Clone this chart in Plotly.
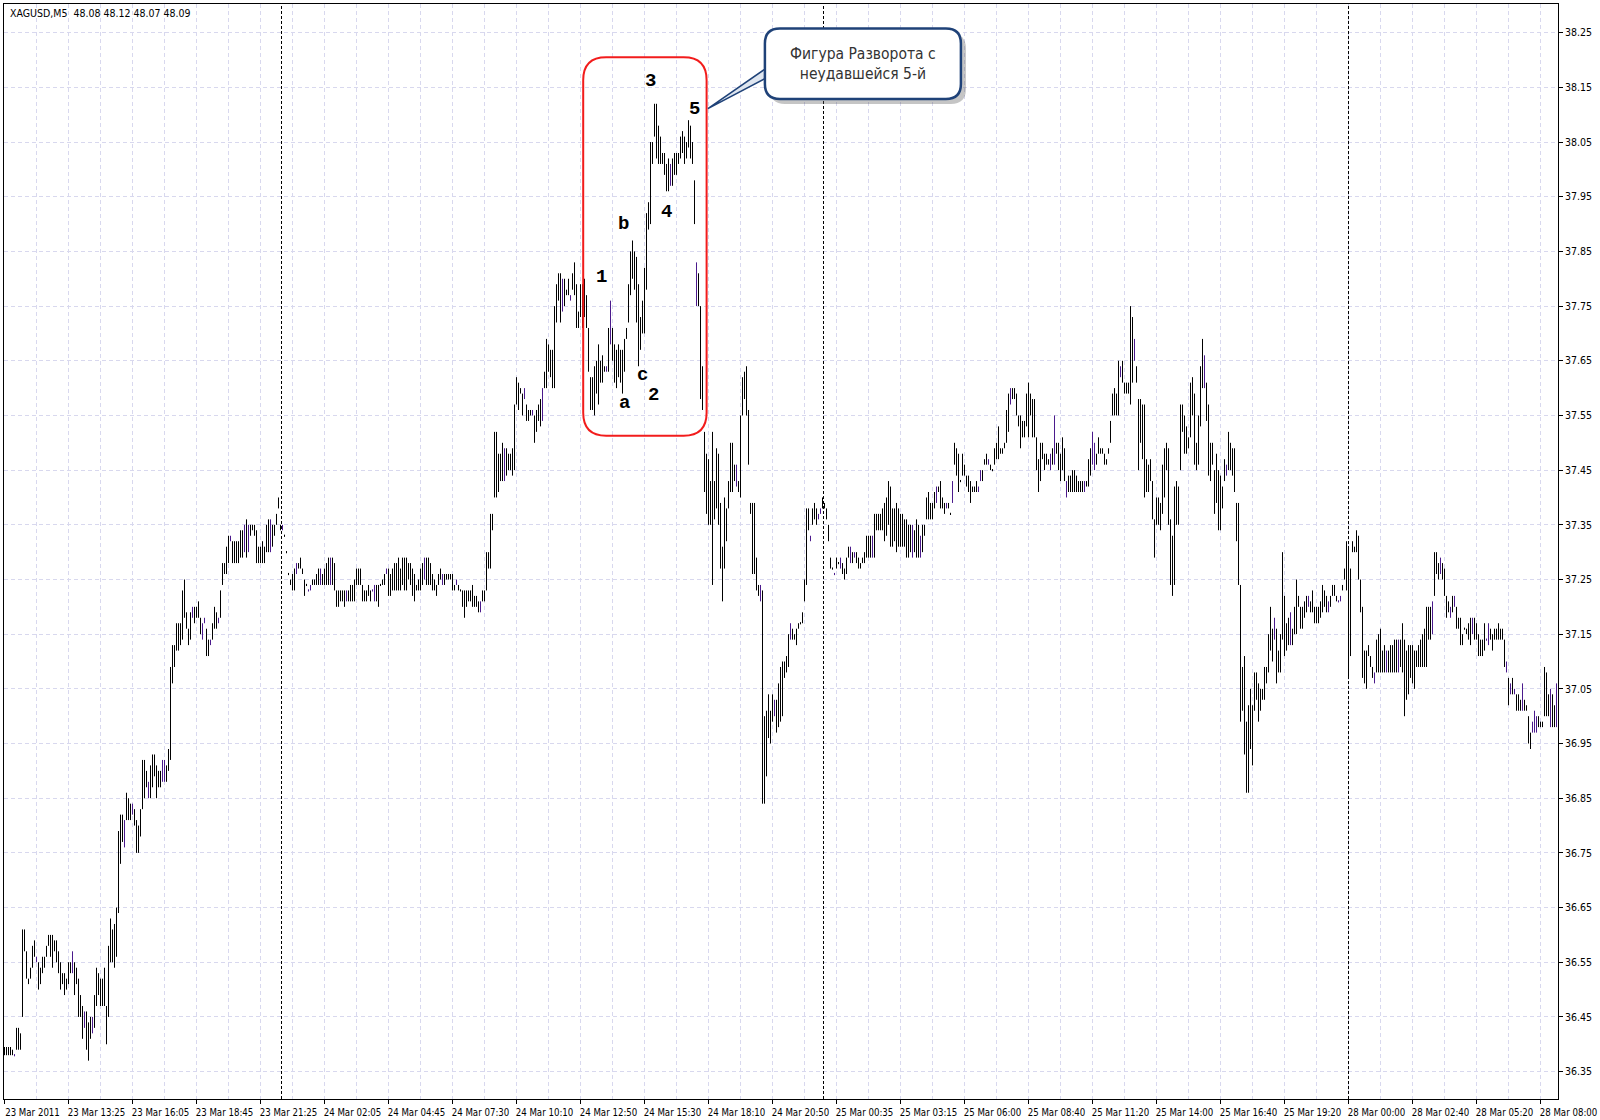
import plotly.graph_objects as go

# ---------------- data (XAGUSD M5 bars) ----------------
highs = [
36.395,36.395,36.395,36.395,36.39,36.382,36.43,36.43,36.42,36.61,
36.61,36.57,36.52,36.54,36.58,36.59,36.56,36.55,36.54,36.56,
36.56,36.58,36.60,36.60,36.60,36.59,36.59,36.57,36.55,36.53,
36.53,36.52,36.55,36.55,36.57,36.55,36.54,36.52,36.49,36.47,
36.46,36.46,36.44,36.45,36.45,36.49,36.54,36.53,36.52,36.52,
36.54,36.47,36.58,36.63,36.61,36.62,36.65,36.79,36.82,36.82,
36.81,36.86,36.85,36.84,36.84,36.83,36.81,36.80,36.83,36.92,
36.92,36.90,36.88,36.91,36.93,36.93,36.91,36.90,36.90,36.92,
36.92,36.91,36.94,37.09,37.13,37.13,37.17,37.17,37.17,37.23,
37.25,37.19,37.16,37.19,37.20,37.20,37.20,37.21,37.18,37.17,
37.18,37.16,37.14,37.14,37.17,37.20,37.19,37.18,37.23,37.28,
37.28,37.31,37.33,37.33,37.32,37.32,37.32,37.32,37.34,37.34,
37.35,37.36,37.35,37.35,37.35,37.35,37.34,37.31,37.31,37.32,
37.31,37.35,37.36,37.36,37.35,37.35,37.37,37.40,37.35,37.35,
37.332,37.302,37.262,37.25,37.26,37.27,37.28,37.28,37.29,37.27,
37.25,37.242,37.232,37.24,37.25,37.25,37.26,37.27,37.27,37.26,
37.27,37.28,37.29,37.29,37.29,37.28,37.23,37.23,37.23,37.23,
37.23,37.23,37.23,37.24,37.24,37.25,37.27,37.27,37.27,37.24,
37.23,37.23,37.24,37.23,37.232,37.24,37.24,37.24,37.242,37.25,
37.26,37.27,37.27,37.26,37.27,37.28,37.28,37.29,37.27,37.29,
37.29,37.29,37.28,37.28,37.27,37.26,37.24,37.25,37.27,37.28,
37.29,37.29,37.29,37.28,37.26,37.25,37.24,37.26,37.27,37.26,
37.26,37.26,37.26,37.26,37.26,37.24,37.25,37.24,37.232,37.23,
37.23,37.23,37.23,37.23,37.24,37.22,37.22,37.21,37.21,37.23,
37.23,37.30,37.30,37.37,37.37,37.52,37.52,37.48,37.48,37.50,
37.49,37.49,37.48,37.48,37.49,37.57,37.62,37.61,37.60,37.59,
37.60,37.57,37.56,37.56,37.56,37.55,37.56,37.57,37.58,37.60,
37.63,37.69,37.68,37.67,37.67,37.75,37.79,37.81,37.81,37.80,
37.80,37.78,37.80,37.77,37.81,37.83,37.79,37.74,37.79,37.79,
37.80,37.77,37.71,37.62,37.62,37.64,37.65,37.68,37.65,37.66,
37.64,37.64,37.71,37.76,37.71,37.68,37.67,37.68,37.67,37.67,
37.69,37.71,37.79,37.85,37.87,37.85,37.84,37.79,37.73,37.76,
37.82,37.92,37.94,38.05,38.05,38.12,38.12,38.08,38.06,38.03,
38.03,38.01,38.02,38.01,38.02,38.03,38.03,38.03,38.06,38.07,
38.06,38.05,38.09,38.08,38.05,37.98,37.83,37.81,37.75,37.64,
37.52,37.48,37.47,37.43,37.52,37.43,37.49,37.48,37.39,37.31,
37.40,37.38,37.43,37.50,37.50,37.46,37.46,37.43,37.55,37.62,
37.63,37.64,37.56,37.39,37.39,37.39,37.29,37.24,37.24,37.23,
37.00,37.01,37.04,37.01,37.04,37.03,37.03,37.06,37.09,37.10,
37.10,37.11,37.15,37.17,37.16,37.15,37.16,37.17,37.172,37.19,
37.25,37.38,37.38,37.33,37.38,37.39,37.38,37.37,37.38,37.40,
37.39,37.38,37.35,37.29,37.272,37.262,37.29,37.282,37.29,37.28,
37.27,37.29,37.31,37.31,37.30,37.30,37.30,37.29,37.28,37.29,
37.30,37.33,37.33,37.33,37.33,37.37,37.37,37.37,37.37,37.38,
37.39,37.40,37.43,37.42,37.38,37.38,37.39,37.38,37.37,37.37,
37.36,37.36,37.35,37.35,37.35,37.34,37.36,37.35,37.33,37.35,
37.35,37.40,37.41,37.39,37.39,37.41,37.42,37.42,37.43,37.40,
37.39,37.39,37.39,37.372,37.43,37.50,37.49,37.48,37.432,37.48,
37.46,37.44,37.44,37.43,37.42,37.42,37.43,37.42,37.45,37.45,
37.47,37.48,37.47,37.46,37.452,37.49,37.50,37.53,37.49,37.49,
37.50,37.56,37.59,37.60,37.60,37.60,37.59,37.55,37.55,37.54,
37.54,37.59,37.61,37.59,37.58,37.58,37.51,37.47,37.50,37.50,
37.48,37.48,37.47,37.48,37.49,37.55,37.50,37.50,37.48,37.51,
37.49,37.43,37.44,37.44,37.45,37.45,37.44,37.43,37.43,37.43,
37.43,37.43,37.47,37.49,37.52,37.50,37.48,37.51,37.49,37.49,
37.48,37.47,37.49,37.54,37.59,37.60,37.59,37.65,37.64,37.65,
37.61,37.61,37.61,37.75,37.73,37.69,37.64,37.58,37.58,37.57,
37.57,37.47,37.46,37.47,37.43,37.36,37.40,37.40,37.39,37.46,
37.49,37.50,37.49,37.36,37.33,37.42,37.43,37.42,37.57,37.57,
37.55,37.53,37.51,37.61,37.62,37.59,37.50,37.55,37.64,37.69,
37.66,37.61,37.57,37.50,37.50,37.45,37.48,37.45,37.44,37.42,
37.47,37.46,37.52,37.50,37.49,37.49,37.39,37.39,37.24,37.09,
37.11,36.99,37.02,37.05,37.02,37.08,37.08,37.06,37.05,37.05,
37.09,37.09,37.15,37.20,37.16,37.18,37.16,37.12,37.15,37.30,
37.22,37.17,37.18,37.19,37.16,37.20,37.25,37.22,37.20,37.20,
37.21,37.22,37.22,37.21,37.23,37.20,37.20,37.20,37.21,37.24,
37.23,37.22,37.21,37.22,37.24,37.24,37.22,37.212,37.22,37.24,
37.27,37.32,37.31,37.27,37.32,37.31,37.34,37.33,37.25,37.20,
37.12,37.12,37.13,37.11,37.09,37.08,37.14,37.15,37.16,37.12,
37.13,37.12,37.12,37.13,37.13,37.14,37.14,37.14,37.14,37.17,
37.14,37.12,37.13,37.13,37.13,37.12,37.12,37.13,37.14,37.15,
37.16,37.20,37.20,37.20,37.21,37.30,37.30,37.28,37.29,37.28,
37.27,37.22,37.21,37.20,37.22,37.22,37.20,37.18,37.18,37.15,
37.162,37.16,37.17,37.18,37.18,37.18,37.17,37.15,37.14,37.14,
37.17,37.142,37.17,37.16,37.15,37.16,37.16,37.17,37.16,37.16,
37.14,37.10,37.07,37.06,37.07,37.05,37.04,37.04,37.03,37.06,
37.03,37.02,37.00,36.97,36.99,37.01,37.00,37.00,36.99,36.99,
37.09,37.08,37.04,37.05,37.04,37.02,37.06,
]

lows = [
36.38,36.38,36.38,36.38,36.38,36.378,36.39,36.39,36.39,36.45,
36.57,36.52,36.51,36.52,36.54,36.56,36.55,36.50,36.51,36.53,
36.54,36.56,36.58,36.56,36.54,36.57,36.55,36.53,36.50,36.51,
36.49,36.50,36.51,36.53,36.53,36.49,36.51,36.45,36.45,36.41,
36.43,36.39,36.37,36.41,36.42,36.43,36.47,36.49,36.47,36.47,
36.47,36.40,36.45,36.55,36.55,36.54,36.56,36.64,36.73,36.77,
36.76,36.81,36.81,36.81,36.82,36.80,36.75,36.75,36.78,36.83,
36.85,36.87,36.85,36.85,36.87,36.89,36.85,36.87,36.87,36.88,
36.88,36.88,36.90,36.92,37.06,37.09,37.12,37.12,37.13,37.14,
37.18,37.16,37.13,37.14,37.18,37.17,37.18,37.18,37.15,37.14,
37.17,37.11,37.11,37.13,37.14,37.16,37.16,37.17,37.18,37.24,
37.26,37.26,37.28,37.32,37.28,37.28,37.28,37.28,37.29,37.29,
37.30,37.29,37.30,37.33,37.34,37.33,37.28,37.28,37.28,37.28,
37.28,37.30,37.30,37.30,37.31,37.33,37.35,37.38,37.34,37.34,
37.328,37.298,37.258,37.24,37.23,37.23,37.26,37.27,37.27,37.26,
37.22,37.238,37.228,37.23,37.24,37.24,37.24,37.24,37.24,37.24,
37.24,37.24,37.24,37.24,37.24,37.23,37.20,37.20,37.21,37.21,
37.20,37.21,37.21,37.21,37.21,37.21,37.24,37.24,37.24,37.21,
37.21,37.21,37.22,37.21,37.228,37.21,37.21,37.20,37.238,37.24,
37.24,37.26,37.22,37.22,37.23,37.23,37.23,37.23,37.23,37.24,
37.23,37.23,37.25,37.24,37.22,37.21,37.23,37.23,37.23,37.24,
37.25,37.24,37.24,37.24,37.23,37.23,37.22,37.24,37.25,37.24,
37.24,37.25,37.25,37.25,37.23,37.23,37.24,37.23,37.228,37.20,
37.18,37.20,37.21,37.21,37.20,37.20,37.20,37.19,37.19,37.21,
37.21,37.23,37.27,37.27,37.34,37.40,37.40,37.41,37.43,37.43,
37.43,37.44,37.45,37.45,37.44,37.45,37.57,37.56,37.59,37.55,
37.58,37.54,37.54,37.55,37.55,37.50,37.52,37.54,37.53,37.54,
37.60,37.60,37.63,37.62,37.60,37.60,37.72,37.76,37.72,37.74,
37.75,37.77,37.77,37.76,37.78,37.77,37.71,37.71,37.73,37.71,
37.73,37.71,37.63,37.56,37.56,37.55,37.59,37.57,37.61,37.61,
37.63,37.63,37.63,37.68,37.65,37.61,37.60,37.62,37.61,37.59,
37.63,37.69,37.72,37.77,37.80,37.78,37.72,37.64,37.67,37.70,
37.70,37.78,37.89,37.90,38.01,38.06,38.02,38.01,38.01,38.01,
37.99,37.96,37.96,37.97,37.97,37.99,37.99,38.01,38.02,38.03,
38.01,38.02,38.04,38.02,38.01,37.90,37.75,37.75,37.58,37.56,
37.41,37.37,37.35,37.35,37.24,37.36,37.38,37.35,37.27,37.21,
37.27,37.32,37.38,37.41,37.41,37.43,37.42,37.41,37.40,37.55,
37.58,37.55,37.46,37.37,37.26,37.26,37.23,37.22,37.21,36.84,
36.84,36.89,36.96,36.95,36.99,37.00,36.97,36.98,36.99,37.00,
37.07,37.08,37.09,37.14,37.14,37.14,37.13,37.16,37.168,37.17,
37.21,37.24,37.34,37.32,37.35,37.36,37.35,37.36,37.37,37.38,
37.38,37.36,37.32,37.27,37.268,37.258,37.27,37.278,37.27,37.26,
37.25,37.26,37.29,37.28,37.28,37.29,37.28,37.27,37.27,37.28,
37.28,37.29,37.29,37.29,37.29,37.29,37.34,37.34,37.34,37.34,
37.32,37.33,37.35,37.31,37.31,37.32,37.30,37.31,37.31,37.31,
37.31,37.29,37.29,37.30,37.29,37.30,37.29,37.29,37.29,37.30,
37.33,37.36,37.36,37.36,37.36,37.38,37.39,37.41,37.38,37.38,
37.37,37.38,37.38,37.368,37.39,37.46,37.44,37.41,37.428,37.44,
37.44,37.42,37.41,37.39,37.41,37.41,37.41,37.41,37.43,37.43,
37.46,37.46,37.46,37.45,37.448,37.46,37.47,37.47,37.48,37.48,
37.49,37.50,37.52,37.57,37.58,37.58,37.55,37.53,37.49,37.51,
37.51,37.53,37.51,37.55,37.51,37.51,37.45,37.41,37.43,37.47,
37.45,37.46,37.46,37.45,37.46,37.46,37.48,37.45,37.43,37.45,
37.43,37.40,37.41,37.41,37.41,37.41,37.41,37.41,37.41,37.41,
37.41,37.42,37.42,37.44,37.46,37.45,37.46,37.48,37.48,37.48,
37.46,37.46,37.48,37.50,37.55,37.55,37.55,37.55,37.62,37.61,
37.59,37.59,37.59,37.57,37.61,37.65,37.61,37.45,37.50,37.47,
37.40,37.41,37.41,37.43,37.36,37.29,37.35,37.35,37.34,37.37,
37.40,37.45,37.35,37.24,37.22,37.24,37.35,37.35,37.45,37.52,
37.48,37.48,37.49,37.51,37.55,37.46,37.45,37.46,37.53,37.60,
37.60,37.54,37.44,37.43,37.46,37.37,37.39,37.34,37.34,37.38,
37.43,37.44,37.45,37.45,37.44,37.41,37.32,37.24,36.99,37.01,
36.93,36.86,36.86,36.94,36.91,37.01,37.03,36.99,37.01,37.03,
37.03,37.06,37.08,37.12,37.10,37.14,37.06,37.08,37.08,37.14,
37.11,37.12,37.13,37.13,37.13,37.15,37.15,37.20,37.16,37.16,
37.18,37.19,37.20,37.19,37.19,37.17,37.17,37.17,37.18,37.19,
37.20,37.19,37.19,37.20,37.22,37.22,37.21,37.208,37.21,37.23,
37.25,37.23,37.07,37.11,37.30,37.30,37.30,37.25,37.19,37.07,
37.06,37.05,37.11,37.09,37.07,37.06,37.08,37.08,37.08,37.08,
37.08,37.08,37.08,37.08,37.08,37.08,37.08,37.08,37.09,37.08,
37.00,37.03,37.04,37.07,37.06,37.05,37.09,37.09,37.09,37.09,
37.09,37.09,37.14,37.14,37.15,37.22,37.26,37.25,37.26,37.25,
37.22,37.18,37.19,37.18,37.19,37.20,37.16,37.16,37.13,37.13,
37.158,37.15,37.14,37.13,37.15,37.14,37.14,37.11,37.11,37.11,
37.12,37.138,37.13,37.14,37.12,37.14,37.14,37.14,37.14,37.14,
37.09,37.08,37.02,37.04,37.04,37.04,37.01,37.01,37.01,37.01,
37.01,37.01,36.95,36.94,36.97,36.97,36.97,36.98,36.98,36.98,
37.00,37.00,37.00,36.98,36.98,36.98,36.98,
]

# bars drawn in the second (violet) bar colour
violet_bars = [5, 16, 34, 40, 44, 60, 64, 72, 79, 80, 94, 99, 100, 103, 107, 113, 120, 122,
               133, 139, 146, 152, 153, 158, 163, 171, 184, 185, 191, 210, 219, 226, 238,
               250, 260, 264, 269, 279, 283, 301, 303, 333, 346, 366, 378, 385, 393, 403,
               407, 408, 415, 418, 423, 425, 434, 454, 458, 466, 471, 474, 487, 488, 492,
               503, 523, 525, 531, 540, 544, 545, 558, 565, 600, 611, 635, 643, 652, 662,
               667, 668, 685, 691, 697, 714, 718, 723, 725, 734, 741, 742, 751, 753, 755,
               759, 764, 765, 766, 773, 776]

time_labels = ["23 Mar 2011", "23 Mar 13:25", "23 Mar 16:05", "23 Mar 18:45", "23 Mar 21:25",
               "24 Mar 02:05", "24 Mar 04:45", "24 Mar 07:30", "24 Mar 10:10", "24 Mar 12:50",
               "24 Mar 15:30", "24 Mar 18:10", "24 Mar 20:50", "25 Mar 00:35", "25 Mar 03:15",
               "25 Mar 06:00", "25 Mar 08:40", "25 Mar 11:20", "25 Mar 14:00", "25 Mar 16:40",
               "25 Mar 19:20", "28 Mar 00:00", "28 Mar 02:40", "28 Mar 05:20", "28 Mar 08:00"]
bars_per_label = 32
day_separators = [138.5, 409.5, 672]

price_ticks = [36.35, 36.45, 36.55, 36.65, 36.75, 36.85, 36.95, 37.05, 37.15, 37.25,
               37.35, 37.45, 37.55, 37.65, 37.75, 37.85, 37.95, 38.05, 38.15, 38.25]

wave_labels = ["3", "5", "b", "4", "1", "c", "2", "a"]
wave_label_bar = [323.0, 345.2, 309.7, 331.0, 298.7, 319.2, 324.7, 310.2]
wave_label_price = [38.162, 38.110, 37.900, 37.922, 37.803, 37.624, 37.587, 37.573]

header_text = "XAGUSD,M5\u00a0\u00a048.08 48.12 48.07 48.09"
callout_text = "Фигура Разворота с<br>неудавшейся 5-й"

# ---------------- build figure ----------------
violet_set = set(violet_bars)
bx, by, vx, vy = [], [], [], []
for i, (h, l) in enumerate(zip(highs, lows)):
    if i in violet_set:
        vx += [i, i, None]
        vy += [l, h, None]
    else:
        bx += [i, i, None]
        by += [l, h, None]

fig = go.Figure()
fig.add_trace(go.Scatter(x=bx, y=by, mode="lines", line=dict(color="#000000", width=1),
                         hoverinfo="skip", showlegend=False))
fig.add_trace(go.Scatter(x=vx, y=vy, mode="lines", line=dict(color="#4b1a8c", width=1),
                         hoverinfo="skip", showlegend=False))

n = len(highs)
grid_col = "rgb(216,216,238)"
narrow = "Liberation Sans Narrow, DejaVu Sans Condensed, Arial Narrow, sans-serif"
x_font = dict(family=narrow, size=9.6, color="#000000")
y_font = dict(family=narrow, size=10.5, color="#000000")

fig.update_layout(
    width=1600, height=1120,
    margin=dict(l=4, r=42, t=4, b=21, pad=0),
    paper_bgcolor="#ffffff", plot_bgcolor="#ffffff",
    showlegend=False,
    xaxis=dict(
        range=[-0.25, n - 0.25],
        tickmode="array",
        tickvals=[k * bars_per_label for k in range(len(time_labels))],
        ticktext=time_labels,
        tickangle=0, automargin=False, ticklabeloverflow="allow",
        ticks="outside", ticklen=4, tickcolor="#000000", tickwidth=1,
        ticklabelshift=28, ticklabelstandoff=0,
        tickfont=x_font,
        showgrid=True, gridcolor=grid_col, griddash="4px,3px", gridwidth=1,
        minor=dict(tickmode="linear", tick0=0, dtick=bars_per_label // 2,
                   showgrid=True, gridcolor=grid_col, griddash="4px,3px", gridwidth=1, ticks=""),
        showline=True, linecolor="#000000", linewidth=1, mirror=True,
        zeroline=False, fixedrange=True,
    ),
    yaxis=dict(
        range=[36.2999, 38.3025],
        side="right", automargin=False,
        tickmode="array", tickvals=price_ticks,
        ticktext=[f"{v:.2f}" for v in price_ticks],
        ticks="outside", ticklen=4, tickcolor="#000000", tickwidth=1,
        tickfont=y_font,
        showgrid=True, gridcolor=grid_col, griddash="4px,3px", gridwidth=1,
        showline=True, linecolor="#000000", linewidth=1, mirror=True,
        zeroline=False, fixedrange=True,
    ),
)

# day separators
for s in day_separators:
    fig.add_shape(type="line", xref="x", yref="paper", x0=s, x1=s, y0=0, y1=1,
                  line=dict(color="#000000", width=1, dash="3px,2px"), layer="above")


def rounded_rect(x0, x1, y0, y1, rx, ry):
    return (f"M {x0+rx},{y1} L {x1-rx},{y1} Q {x1},{y1} {x1},{y1-ry} "
            f"L {x1},{y0+ry} Q {x1},{y0} {x1-rx},{y0} L {x0+rx},{y0} "
            f"Q {x0},{y0} {x0},{y0+ry} L {x0},{y1-ry} Q {x0},{y1} {x0+rx},{y1} Z")


# red frame around the pattern
fig.add_shape(type="path", xref="x", yref="y",
              path=rounded_rect(289.35, 351.05, 37.513, 38.205, 11.5, 0.042),
              line=dict(color="#f21c1c", width=2), fillcolor="rgba(0,0,0,0)", layer="above")

# callout: shadow, pointer, box
cx0, cx1, cy0, cy1 = 380.2, 478.2, 38.1287, 38.2575
fig.add_shape(type="path", xref="x", yref="y",
              path=rounded_rect(cx0 + 2.5, cx1 + 2.5, cy0 - 0.009, cy1 - 0.009, 7.5, 0.0274),
              line=dict(width=0), fillcolor="rgba(90,90,90,0.35)", layer="above")
fig.add_shape(type="path", xref="x", yref="y",
              path=f"M {cx0+1},38.186 L 351.7,38.111 L {cx0+1},38.168 Z",
              line=dict(color="#1f4278", width=1.5), fillcolor="#dfe6f0", layer="above")
fig.add_shape(type="path", xref="x", yref="y",
              path=rounded_rect(cx0, cx1, cy0, cy1, 7.5, 0.0274),
              line=dict(color="#1f4278", width=2.5), fillcolor="#ffffff", layer="above")

fig.add_annotation(x=(cx0 + cx1) / 2, y=(cy0 + cy1) / 2, xref="x", yref="y",
                   text=callout_text, showarrow=False, align="center",
                   font=dict(family=narrow, size=15.5, color="#333333"))

# wave labels
for t, bxp, pyp in zip(wave_labels, wave_label_bar, wave_label_price):
    fig.add_annotation(x=bxp, y=pyp, xref="x", yref="y", text=t, showarrow=False,
                       xanchor="center", yanchor="middle",
                       font=dict(family="Liberation Mono, Courier New, monospace", size=19,
                                 color="#000000", weight="bold"))

# header
fig.add_annotation(x=0.0026, y=0.9918, xref="paper", yref="paper", text=header_text,
                   showarrow=False, xanchor="left", yanchor="middle",
                   font=dict(family=narrow, size=10.5, color="#000000"))

fig.write_html("out.html", config={"displayModeBar": False},
               post_script="document.body.style.margin='0';document.body.style.overflow='hidden';")
